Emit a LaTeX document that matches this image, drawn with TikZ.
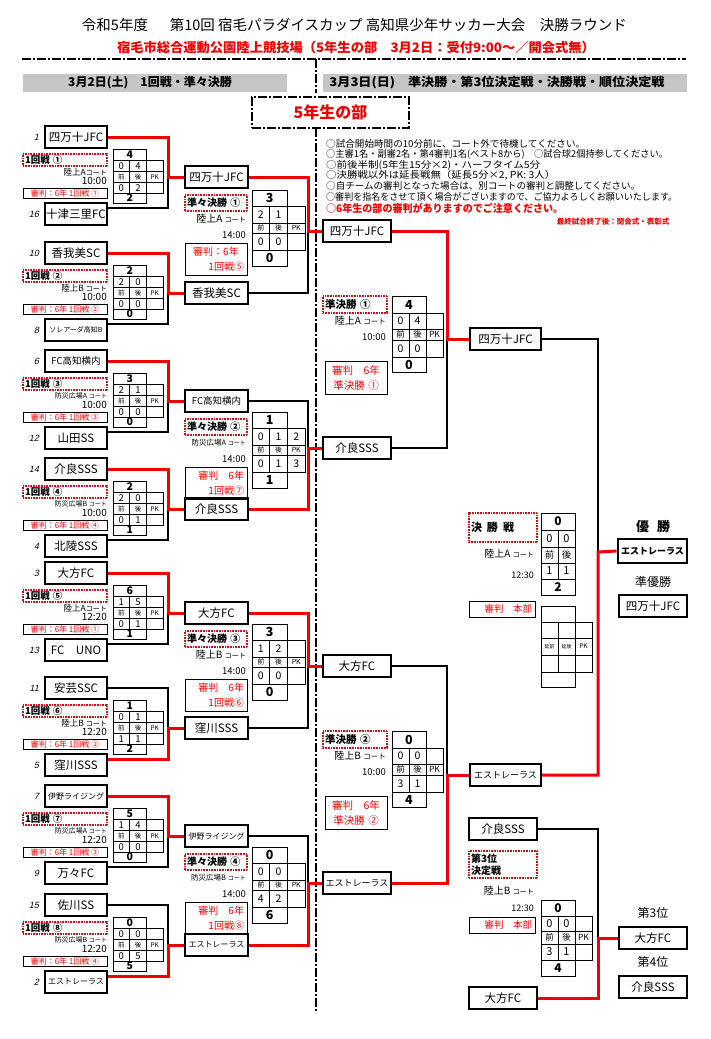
\documentclass[tikz,border=0pt]{standalone}
\usepackage{fontspec}
\setmainfont{Noto Sans CJK JP}
\newfontfamily\seedf[FakeSlant=0.25]{Liberation Sans}
\usetikzlibrary{calc}
\definecolor{myred}{RGB}{240,0,0}
\definecolor{dred}{RGB}{190,20,20}
\definecolor{bargray}{RGB}{198,198,198}
\newcommand{\fs}[1]{\fontsize{#1}{#1}\selectfont}
\newcommand{\fsl}[2]{\fontsize{#1}{#2}\selectfont}
\newcommand{\ctxt}[1]{{\fontsize{#1}{#1}\selectfont コート}}
\newcommand{\nline}[2]{\resizebox{#1}{\height}{#2}}
\newcounter{gc}
\newcommand{\sgeo}[9]{\def\sgW{#1}\def\sgA{#2}\def\sgB{#3}\def\sgC{#4}\def\sgD{#5}\def\sgE{#6}\def\sgNum{#7}\def\sgTot{#8}\def\sgLab{#9}}
\newcommand{\sgrid}[9]{%
\stepcounter{gc}%
\begin{scope}[shift={#1}]
\pgfmathsetmacro\gya{\sgA}%
\pgfmathsetmacro\gyb{\sgA+\sgB}%
\pgfmathsetmacro\gyc{\gyb+\sgC}%
\pgfmathsetmacro\gyd{\gyc+\sgD}%
\pgfmathsetmacro\gye{\gyd+\sgE}%
\pgfmathsetmacro\gxa{\sgW}%
\pgfmathsetmacro\gxb{2*\sgW}%
\pgfmathsetmacro\gxc{3*\sgW}%
\pgfmathsetmacro\gmt{\gya/2}%
\pgfmathsetmacro\gma{(\gya+\gyb)/2}%
\pgfmathsetmacro\gmb{(\gyb+\gyc)/2}%
\pgfmathsetmacro\gmc{(\gyc+\gyd)/2}%
\pgfmathsetmacro\gmd{(\gyd+\gye)/2}%
\pgfmathsetmacro\gxh{\sgW/2}%
\pgfmathsetmacro\gxi{1.5*\sgW}%
\pgfmathsetmacro\gxj{2.5*\sgW}%
\draw[gline] (0,0) rectangle (\gxb,\gya) (0,\gya) rectangle (\gxc,\gyd) (0,\gyd) rectangle (\gxb,\gye)
 (0,\gyb) -- (\gxc,\gyb) (0,\gyc) -- (\gxc,\gyc) (\gxa,\gya) -- (\gxa,\gyd) (\gxb,\gya) -- (\gxb,\gyd);
\node[gtot] (g\arabic{gc}t) at (\gxa,\gmt) {#2};
\node[gnum] (g\arabic{gc}a) at (\gxh,\gma) {#3};
\node[gnum] (g\arabic{gc}b) at (\gxi,\gma) {#4};
\node[gnum] (g\arabic{gc}c) at (\gxj,\gma) {#5};
\node[glab] (g\arabic{gc}d) at (\gxh,\gmb) {前};
\node[glab] (g\arabic{gc}e) at (\gxi,\gmb) {後};
\node[glab] (g\arabic{gc}f) at (\gxj,\gmb) {PK};
\node[gnum] (g\arabic{gc}g) at (\gxh,\gmc) {#6};
\node[gnum] (g\arabic{gc}h) at (\gxi,\gmc) {#7};
\node[gnum] (g\arabic{gc}i) at (\gxj,\gmc) {#8};
\node[gtot] (g\arabic{gc}j) at (\gxa,\gmd) {#9};
\end{scope}}
\newcommand{\lblock}[9]{%
 \node[lteam] (#1a) at (76,#2) {#4};
 \node[lteam] (#1b) at (76,#2+77) {#6};
 \node[seed] (#1sa) at (39,#2) {#3};
 \node[seed] (#1sb) at (39,#2+77) {#5};
 \node[llab] (#1m) at (65,#2+23) {#7};
 \node[lcourt] (#1c) at (107,#2+35) {#8};
 \node[ltime] (#1t) at (107,#2+44) {#9};
}
\newcommand{\lref}[3]{\node[lref] (#1r) at (65,#2+56.5) {#3};}
\newcommand{\qblock}[8]{%
 \node[qteam] (#1a) at (216.5,#2) {#4};
 \node[qteam] (#1b) at (216.5,#3) {#5};
 \node[qlab] (#1m) at (216,#2+26) {#6};
 \node[qcourt] (#1c) at (246,#2+42) {#7};
 \node[qcourt, font=\fs{9.5}] (#1t) at (246,#2+58) {14:00};
 \node[qref] (#1r) at (216,#2+82) {#8};
}
\newcommand{\sblock}[8]{%
 \node[steam] (#1a) at (357,#2) {#4};
 \node[steam] (#1b) at (357,#3) {#5};
 \node[slab] (#1m) at (355,#2+73.5) {#6};
 \node[qcourt] (#1c) at (386,#2+90) {#7};
 \node[qcourt, font=\fs{9.5}] (#1t) at (386,#2+106) {10:00};
 \node[sref] (#1r) at (356,#2+147) {#8};
}
\tikzset{
 lteam/.style={draw, line width=2pt, minimum width=62pt, minimum height=22pt, inner sep=0pt, fill=white, font=\fs{11.5}},
 qteam/.style={lteam, minimum width=63pt},
 steam/.style={lteam, minimum width=68pt},
 fteam/.style={lteam, minimum width=71pt},
 seed/.style={anchor=east, inner sep=0pt, font=\seedf\fs{9}},
 llab/.style={draw=dred, line width=1.2pt, dash pattern=on 0.7pt off 0.9pt, minimum width=84pt, minimum height=12pt, inner xsep=2pt, inner ysep=0pt, text width=80pt, align=left, font=\bfseries\fs{9.5}},
 qlab/.style={llab, minimum width=62pt, minimum height=16pt, text width=58pt, font=\bfseries\fs{10}},
 slab/.style={llab, minimum width=64pt, minimum height=17pt, text width=60pt, font=\bfseries\fs{10.5}},
 lcourt/.style={anchor=east, inner sep=0pt, font=\fs{8.5}},
 ltime/.style={anchor=east, inner sep=0pt, font=\fs{10}},
 qcourt/.style={anchor=east, inner sep=0pt, font=\fs{10}},
 lref/.style={draw, line width=0.7pt, minimum width=84pt, minimum height=10pt, inner sep=0pt, text=myred, font=\fs{8}},
 qref/.style={draw, line width=0.7pt, minimum width=62pt, minimum height=32pt, inner sep=2pt, text width=56pt, align=right, text=myred, font=\fsl{10}{15}},
 sref/.style={draw, line width=0.7pt, minimum width=62pt, minimum height=33pt, inner sep=2pt, text width=56pt, align=center, text=myred, font=\fsl{10.5}{15}},
 bref/.style={draw, line width=0.7pt, minimum width=66pt, minimum height=16pt, inner sep=0pt, text width=60pt, align=right, text=myred, font=\fs{9.5}},
 gline/.style={line width=0.9pt},
 gnum/.style={inner sep=0pt, font=\fs{\sgNum}},
 gtot/.style={inner sep=0pt, font=\bfseries\fs{\sgTot}},
 glab/.style={inner sep=0pt, font=\fs{\sgLab}},
 win/.style={draw=myred, line width=3pt},
 lose/.style={draw=black, line width=1.5pt},
 sep/.style={line width=2.6pt, dash pattern=on 9pt off 2pt on 2pt off 2pt},
 note/.style={anchor=west, inner sep=0pt, font=\fs{9.5}},
 plain/.style={inner sep=0pt},
}
\begin{document}
\begin{tikzpicture}[x=1pt,y=-1pt]
\useasboundingbox (0,0) rectangle (711,1039);
\fill[white] (0,0) rectangle (711,1039);
% ---------- header ----------
\node[plain, font=\fs{14.5}] (title) at (354.5,25) {\resizebox{545pt}{\height}{令和5年度\hspace{1.5em}第10回 宿毛パラダイスカップ 高知県少年サッカー大会　決勝ラウンド}};
\node[plain, font=\bfseries\fs{13}, text=myred] (sub) at (356,48) {\resizebox{478pt}{\height}{宿毛市総合運動公園陸上競技場（5年生の部　3月2日：受付9:00～／開会式無）}};
\draw[sep] (22,59) -- (686,59);
\draw[sep] (316,59) -- (316,93);
\draw[sep] (316,128) -- (316,1013);
\node[fill=bargray, minimum width=264pt, minimum height=18pt, inner sep=0pt] (barL) at (155,83) {};
\node[plain, font=\bfseries\fs{12}] (barLt) at (150,83) {3月2日(土)　1回戦・準々決勝};
\node[fill=bargray, minimum width=364pt, minimum height=18pt, inner sep=0pt] (barR) at (505,83) {};
\node[plain, font=\bfseries\fs{12}] (barRt) at (497,83) {\resizebox{335pt}{\height}{3月3日(日)　準決勝・第3位決定戦・決勝戦・順位決定戦}};
\node[draw, sep, fill=white, minimum width=157pt, minimum height=31pt, inner sep=0pt, text=myred, font=\bfseries\fs{16}] (bu) at (330.5,112.5) {5年生の部};
% ---------- notes ----------
\node[note] (n1) at (326,144) {\nline{259pt}{○試合開始時間の10分前に、コート外で待機してください。}};
\node[note] (n2) at (326,154.5) {\nline{342pt}{○主審1名・副審2名・第4審判1名(ベスト8から)　○試合球2個持参してください。}};
\node[note] (n3) at (326,165) {\nline{214pt}{○前後半制(5年生15分×2)・ハーフタイム5分}};
\node[note] (n4) at (326,175.5) {\nline{229pt}{○決勝戦以外は延長戦無（延長5分×2, PK: 3人）}};
\node[note] (n5) at (326,186) {\nline{314pt}{○自チームの審判となった場合は、別コートの審判と調整してください。}};
\node[note] (n6) at (326,197) {\nline{351pt}{○審判を指名をさせて頂く場合がございますので、ご協力よろしくお願いいたします。}};
\node[note, text=myred, font=\bfseries\fs{10.5}] (n7) at (326,208.5) {\nline{237pt}{○6年生の部の審判がありますのでご注意ください。}};
\node[plain, text=myred, font=\bfseries\fs{7.5}] (n8) at (613,222) {最終試合終了後：閉会式・表彰式};
% ---------- first round ----------
\lblock{L1}{137}{1}{四万十JFC}{16}{十津三里FC}{1回戦 ①}{陸上A\ctxt{7}}{10:00}
\lref{L1}{137}{審判：6年 1回戦 ①}
\lblock{L2}{253}{10}{香我美SC}{8}{{\fs{7}ソレアーダ高知B}}{1回戦 ②}{陸上B \ctxt{7}}{10:00}
\lref{L2}{253}{審判：6年 1回戦 ②}
\lblock{L3}{361}{6}{{\fs{9.5}FC高知横内}}{12}{山田SS}{1回戦 ③}{{\fs{7}防災広場A }\ctxt{6}}{10:00}
\lref{L3}{361}{審判：6年 1回戦 ③}
\lblock{L4}{469}{14}{介良SSS}{4}{北陵SSS}{1回戦 ④}{{\fs{7}防災広場B }\ctxt{6}}{10:00}
\lref{L4}{469}{審判：6年 1回戦 ④}
\lblock{L5}{573}{3}{大方FC}{13}{FC　UNO}{1回戦 ⑤}{陸上A\ctxt{7}}{12:20}
\lref{L5}{573}{審判：6年 1回戦 ①}
\lblock{L6}{688}{11}{安芸SSC}{5}{窪川SSS}{1回戦 ⑥}{陸上B \ctxt{7}}{12:20}
\lref{L6}{688}{審判：6年 1回戦 ②}
\lblock{L7}{796}{7}{{\fs{8}伊野ライジング}}{9}{万々FC}{1回戦 ⑦}{{\fs{7}防災広場A }\ctxt{6}}{12:20}
\lref{L7}{796}{審判：6年 1回戦 ③}
\lblock{L8}{905}{15}{佐川SS}{2}{{\fs{8}エストレーラス}}{1回戦 ⑧}{{\fs{7}防災広場B }\ctxt{6}}{12:20}
\lref{L8}{905}{審判：6年 1回戦 ④}
\sgeo{16.7}{11}{11.5}{11}{10.5}{10}{9.5}{10.5}{6.5}
\sgrid{(113,149)}{4}{0}{4}{}{0}{2}{}{2}
\sgrid{(113,265)}{2}{2}{0}{}{0}{0}{}{0}
\sgrid{(113,373)}{3}{2}{1}{}{0}{0}{}{0}
\sgrid{(113,481)}{2}{2}{0}{}{0}{1}{}{1}
\sgrid{(113,585)}{6}{1}{5}{}{0}{1}{}{1}
\sgrid{(113,700)}{1}{0}{1}{}{1}{1}{}{2}
\sgrid{(113,808)}{5}{1}{4}{}{0}{0}{}{0}
\sgrid{(113,917)}{0}{0}{0}{}{0}{5}{}{5}
% ---------- quarter finals ----------
\qblock{Q1}{177}{293}{四万十JFC}{香我美SC}{準々決勝 ①}{陸上A \ctxt{7}}{\centering 審判：6年\\1回戦⑤}
\qblock{Q2}{401}{509}{{\fs{9.5}FC高知横内}}{介良SSS}{準々決勝 ②}{{\fs{7.5}防災広場A }\ctxt{6}}{審判　6年\\1回戦⑦}
\qblock{Q3}{613}{728}{大方FC}{窪川SSS}{準々決勝 ③}{陸上B \ctxt{7}}{審判　6年\\1回戦⑥}
\qblock{Q4}{836}{945}{{\fs{8}伊野ライジング}}{{\fs{8}エストレーラス}}{準々決勝 ④}{{\fs{7.5}防災広場B }\ctxt{6}}{審判　6年\\1回戦⑧}
\sgeo{17.7}{16}{17}{10}{17}{16}{10.5}{12.5}{7}
\sgrid{(252,190)}{3}{2}{1}{}{0}{0}{}{0}
\sgrid{(252,412)}{1}{0}{1}{2}{0}{1}{3}{1}
\sgrid{(252,624)}{3}{1}{2}{}{0}{0}{}{0}
\sgrid{(252,847)}{0}{0}{0}{}{4}{2}{}{6}
% ---------- semi finals ----------
\sblock{S1}{231}{448}{四万十JFC}{介良SSS}{準決勝 ①}{陸上A \ctxt{7.5}}{審判　6年\\準決勝 ①}
\sblock{S2}{666}{883}{大方FC}{{\fs{9}エストレーラス}}{準決勝 ②}{陸上B \ctxt{7.5}}{審判　6年\\準決勝 ②}
\sgeo{17}{17}{16}{11}{17}{15}{10.5}{12.5}{8.5}
\sgrid{(392,296)}{4}{0}{4}{}{0}{0}{}{0}
\sgrid{(392,731)}{0}{0}{0}{}{3}{1}{}{4}
% ---------- final ----------
\node[fteam] (F1) at (505.5,339) {四万十JFC};
\node[fteam, font=\fs{9}] (F2) at (505.5,775) {エストレーラス};
\node[llab, minimum width=68pt, minimum height=29pt, text width=64pt, font=\bfseries\fs{11}] (FL) at (503,527.5) {決\hspace{5pt}勝\hspace{5pt}戦};
\node[qcourt] (FC) at (534,554) {陸上A \ctxt{7}};
\node[qcourt, font=\fs{9}] (FT) at (534,575) {12:30};
\node[bref] (FR) at (502,609) {審判　本部};
\draw[gline] (541,513) rectangle (575,595) (541,530) -- (575,530) (541,547) -- (575,547) (541,563) -- (575,563) (541,579) -- (575,579) (558,530) -- (558,579);
\node[plain, font=\bfseries\fs{12}] (fg1) at (558,521.5) {0};
\node[plain, font=\fs{11}] (fg2) at (549.5,538.5) {0};
\node[plain, font=\fs{11}] (fg3) at (566.5,538.5) {0};
\node[plain, font=\fs{9.5}] (fg4) at (549.5,555) {前};
\node[plain, font=\fs{9.5}] (fg5) at (566.5,555) {後};
\node[plain, font=\fs{11}] (fg6) at (549.5,571) {1};
\node[plain, font=\fs{11}] (fg7) at (566.5,571) {1};
\node[plain, font=\bfseries\fs{12}] (fg8) at (558,587) {2};
\draw[gline] (541,606) rectangle (575,622) (541,622) rectangle (592,672) (541,638) -- (592,638) (541,655) -- (592,655) (558,622) -- (558,672) (575,622) -- (575,672) (541,672) rectangle (575,687);
\node[plain, font=\fs{5}] (fe1) at (549.5,646.5) {延前};
\node[plain, font=\fs{5}] (fe2) at (566.5,646.5) {延後};
\node[plain, font=\fs{6.5}] (fe3) at (583.5,646.5) {PK};
\node[plain, font=\bfseries\fs{13}] (champL) at (653,527) {優\hspace{8pt}勝};
\node[lteam, line width=2.8pt, minimum width=69pt, minimum height=24pt, font=\bfseries\fs{9}] (C1) at (652.5,551) {エストレーラス};
\node[plain, font=\fs{12}] (runL) at (653,582) {準優勝};
\node[lteam, minimum width=68pt] (R2) at (653,606) {四万十JFC};
% ---------- third place ----------
\node[steam] (T1) at (503,829) {介良SSS};
\node[steam] (T2) at (503,998) {大方FC};
\node[llab, minimum width=68pt, minimum height=27pt, text width=64pt, font=\bfseries\fsl{10}{12}] (TL) at (503,864.5) {第3位\\決定戦};
\node[qcourt] (TC) at (534,891) {陸上B \ctxt{7}};
\node[qcourt, font=\fs{9}] (TT) at (534,908) {12:30};
\node[bref] (TR) at (502,925) {審判　本部};
\sgeo{17}{16}{15}{13}{16}{16}{11}{12}{8.5}
\sgrid{(541,900)}{0}{0}{0}{}{3}{1}{}{4}
\node[plain, font=\fs{12}] (thirdL) at (653,913) {第3位};
\node[lteam, minimum width=68pt] (P3) at (653,938) {大方FC};
\node[plain, font=\fs{12}] (fourthL) at (653,962) {第4位};
\node[lteam, minimum width=68pt] (P4) at (653,987) {介良SSS};
% ---------- connectors ----------
\coordinate (jl1) at (168,177);
\coordinate (jl2) at (168,293);
\coordinate (jl3) at (168,401);
\coordinate (jl4) at (168,509);
\coordinate (jl5) at (168,613);
\coordinate (jl6) at (168,728);
\coordinate (jl7) at (168,836);
\coordinate (jl8) at (168,945);
\draw[lose] ([yshift=6pt]L1b.east) -| (jl1);
\draw[win] (L1a.east) -| (jl1) -- (Q1a.west);
\draw[lose] ([yshift=6pt]L2b.east) -| (jl2);
\draw[win] (L2a.east) -| (jl2) -- (Q1b.west);
\draw[lose] ([yshift=6pt]L3b.east) -| (jl3);
\draw[win] (L3a.east) -| (jl3) -- (Q2a.west);
\draw[lose] ([yshift=6pt]L4b.east) -| (jl4);
\draw[win] (L4a.east) -| (jl4) -- (Q2b.west);
\draw[lose] ([yshift=6pt]L5b.east) -| (jl5);
\draw[win] (L5a.east) -| (jl5) -- (Q3a.west);
\draw[lose] (L6a.east) -| (jl6);
\draw[win] ([yshift=6pt]L6b.east) -| (jl6) -- (Q3b.west);
\draw[lose] ([yshift=6pt]L7b.east) -| (jl7);
\draw[win] (L7a.east) -| (jl7) -- (Q4a.west);
\draw[lose] (L8a.east) -| (jl8);
\draw[win] ([yshift=6pt]L8b.east) -| (jl8) -- (Q4b.west);
\coordinate (jq1) at (308,231);
\coordinate (jq2) at (308,448);
\coordinate (jq3) at (308,666);
\coordinate (jq4) at (308,883);
\draw[lose] (Q1b.east) -| (jq1);
\draw[win] (Q1a.east) -| (jq1) -- (S1a.west);
\draw[lose] (Q2a.east) -| (jq2);
\draw[win] (Q2b.east) -| (jq2) -- (S1b.west);
\draw[lose] (Q3b.east) -| (jq3);
\draw[win] (Q3a.east) -| (jq3) -- (S2a.west);
\draw[lose] (Q4a.east) -| (jq4);
\draw[win] (Q4b.east) -| (jq4) -- (S2b.west);
\coordinate (js1) at (447,339);
\coordinate (js2) at (447,775);
\draw[lose] (S1b.east) -| (js1);
\draw[win] (S1a.east) -| (js1) -- (F1.west);
\draw[lose] (S2a.east) -| (js2);
\draw[win] (S2b.east) -| (js2) -- (F2.west);
\coordinate (jc) at (598,552);
\draw[lose] (F1.east) -| (jc);
\draw[win] (F2.east) -| (jc) -- (C1.west);
\coordinate (j3) at (598,938);
\draw[lose] (T1.east) -| (j3);
\draw[win] (T2.east) -| (j3) -- (P3.west);
\end{tikzpicture}
\end{document}
